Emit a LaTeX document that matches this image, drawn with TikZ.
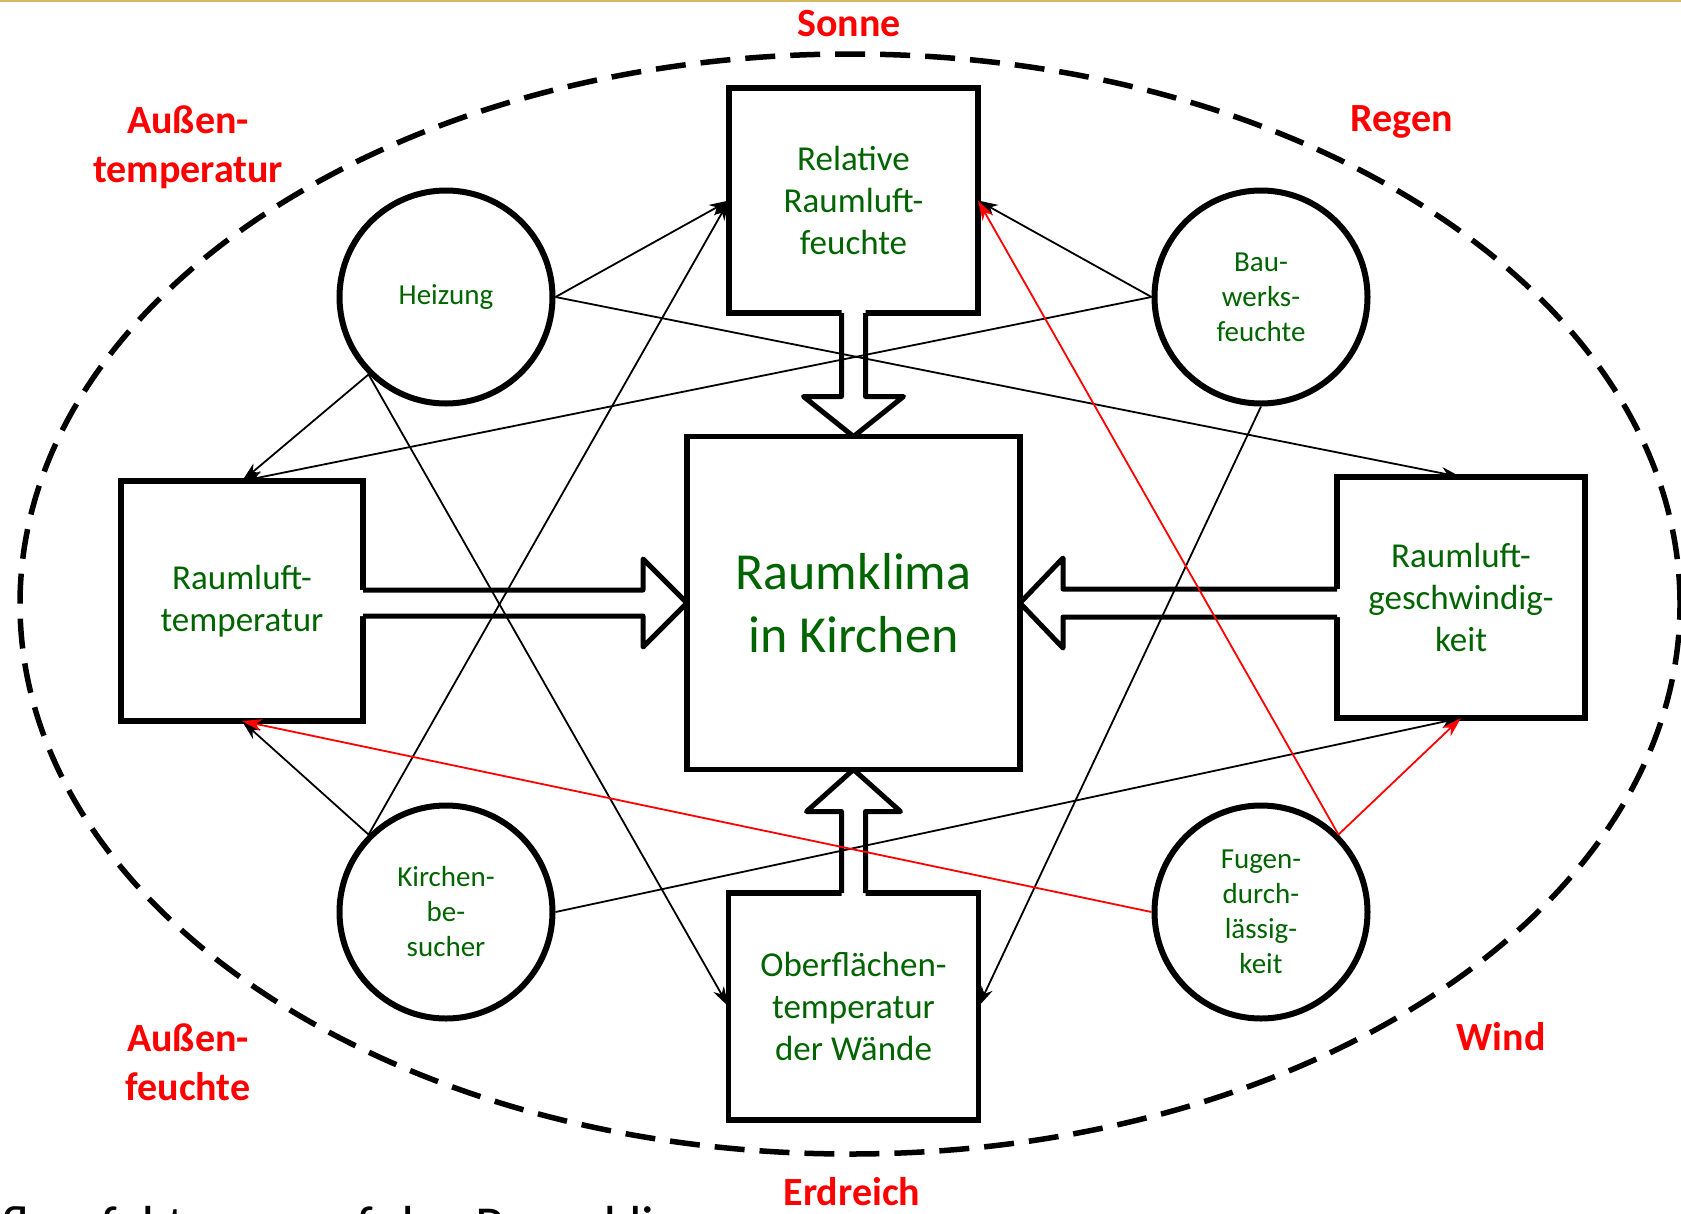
\documentclass[tikz,border=0pt]{standalone}
\usepackage{fontspec}
\setmainfont{Carlito}
\usetikzlibrary{arrows.meta,calc}
\definecolor{tgreen}{RGB}{0,100,0}
\definecolor{tred}{RGB}{255,0,0}
\definecolor{tgold}{RGB}{212,182,92}
\tikzset{
  box/.style={draw, line width=5.5pt, outer sep=0pt, inner sep=0pt, text=tgreen, align=center, font=\fontsize{35}{42}\selectfont},
  circ/.style={draw, circle, line width=6pt, minimum size=213pt, inner sep=0pt, text=tgreen, align=center, font=\fontsize{29}{35}\selectfont},
  lab/.style={text=tred, align=center, font=\bfseries\fontsize{40}{49}\selectfont, inner sep=0pt},
  con/.style={line width=1.8pt, -{Stealth[length=20pt,width=12pt,inset=6pt]}},
  conr/.style={con, draw=tred},
  blk/.style={line width=5pt, line join=round},
  blkfill/.style={fill=white},
  border/.style={dash pattern=on 30pt off 15pt, line width=5.5pt}
}
\begin{document}
\begin{tikzpicture}[x=1pt,y=-1pt]
\useasboundingbox (0,0) rectangle (1681,1213);
\fill[white] (0,0) rectangle (1681,1213);
\draw[tgold, line width=2pt] (0,1) -- (1681,1);
% dashed outer ellipse
\draw[border] (850,604) ellipse [x radius=830pt, y radius=550pt];

% boxes
\node[box, minimum width=249pt, minimum height=225pt] (rel) at (853.5,200.5) {Relative\\Raumluft-\\feuchte};
\node[box, minimum width=333pt, minimum height=333pt, font=\fontsize{52}{63}\selectfont] (rk) at (853.5,603) {Raumklima\\in Kirchen};
\node[box, minimum width=242pt, minimum height=240pt] (rt) at (242,601) {Raumluft-\\temperatur};
\node[box, minimum width=248pt, minimum height=241pt] (rg) at (1461,597.5) {Raumluft-\\geschwindig-\\keit};
\node[box, minimum width=250pt, minimum height=227pt] (ob) at (853.5,1006.5) {Oberflächen-\\temperatur\\der Wände};

% circles
\node[circ] (heiz) at (446,297) {Heizung};
\node[circ] (bau) at (1261,297) {Bau-\\werks-\\feuchte};
\node[circ] (kir) at (446,912) {Kirchen-\\be-\\sucher};
\node[circ] (fug) at (1261,912) {Fugen-\\durch-\\lässig-\\keit};

% block arrows
% top: rel -> rk
\coordinate (ta1) at ($(rk.north)+(-12,-40)$);
\coordinate (ta2) at ($(rk.north)+(12,-40)$);
\coordinate (ta3) at (ta1 |- rel.south);
\coordinate (ta4) at (ta2 |- rel.south);
\fill[blkfill] ($(ta3)+(0,-6)$) -- (ta1) -- ++(-38,0) -- (rk.north) -- ++(50,-40) -- (ta2) -- ($(ta4)+(0,-6)$) -- cycle;
\draw[blk] (ta3) -- (ta1) -- ++(-38,0) -- (rk.north) -- ++(50,-40) -- (ta2) -- (ta4);
% bottom: ob -> rk
\coordinate (ba1) at ($(rk.south)+(-12,42)$);
\coordinate (ba2) at ($(rk.south)+(12,42)$);
\coordinate (ba3) at (ba1 |- ob.north);
\coordinate (ba4) at (ba2 |- ob.north);
\fill[blkfill] ($(ba3)+(0,6)$) -- (ba1) -- ++(-35,0) -- (rk.south) -- ++(47,42) -- (ba2) -- ($(ba4)+(0,6)$) -- cycle;
\draw[blk] (ba3) -- (ba1) -- ++(-35,0) -- (rk.south) -- ++(47,42) -- (ba2) -- (ba4);
% left: rt -> rk
\coordinate (la1) at ($(rk.west)+(-44,-13)$);
\coordinate (la2) at ($(rk.west)+(-44,13)$);
\coordinate (la3) at (rt.east |- la1);
\coordinate (la4) at (rt.east |- la2);
\fill[blkfill] ($(la3)+(-6,0)$) -- (la1) -- ++(0,-31) -- (rk.west) -- ++(-44,44) -- (la2) -- ($(la4)+(-6,0)$) -- cycle;
\draw[blk] (la3) -- (la1) -- ++(0,-31) -- (rk.west) -- ++(-44,44) -- (la2) -- (la4);
% right: rg -> rk
\coordinate (ra1) at ($(rk.east)+(43,-14)$);
\coordinate (ra2) at ($(rk.east)+(43,14)$);
\coordinate (ra3) at (rg.west |- ra1);
\coordinate (ra4) at (rg.west |- ra2);
\fill[blkfill] ($(ra3)+(6,0)$) -- (ra1) -- ++(0,-31) -- (rk.east) -- ++(43,45) -- (ra2) -- ($(ra4)+(6,0)$) -- cycle;
\draw[blk] (ra3) -- (ra1) -- ++(0,-31) -- (rk.east) -- ++(43,45) -- (ra2) -- (ra4);

% thin connectors
\draw[con] (heiz.east) -- (rel.west);
\draw[con] (heiz.east) -- (rg.north);
\draw[con] (heiz.south west) -- (rt.north);
\draw[con] (heiz.south west) -- (ob.west);
\draw[con] (bau.west) -- (rel.east);
\draw[con] (bau.west) -- (rt.north);
\draw[con] (bau.south) -- (ob.east);
\draw[con] (kir.north west) -- (rt.south);
\draw[con] (kir.north west) -- (rel.west);
\draw[con] (kir.east) -- (rg.south);
\draw[conr] (fug.west) -- (rt.south);
\draw[conr] (fug.north east) -- (rel.east);
\draw[conr] (fug.north east) -- (rg.south);

% outer labels
\node[lab] (sonne) at (849,24) {Sonne};
\node[lab] (atemp) at (188,147) {Außen-\\temperatur};
\node[lab] (regen) at (1402,122) {Regen};
\node[lab] (afeu) at (188,1062) {Außen-\\feuchte};
\node[lab] (wind) at (1501,1037) {Wind};
\node[lab] (erd) at (852,1192) {Erdreich};

% cut caption
\begin{scope}
\clip (0,0) rectangle (1681,1213);
\node[anchor=base west, inner sep=0pt, font=\fontsize{55}{66}\selectfont] (cap) at (-68,1244) {Einflussfaktoren auf das Raumklima};
\end{scope}
\end{tikzpicture}
\end{document}
